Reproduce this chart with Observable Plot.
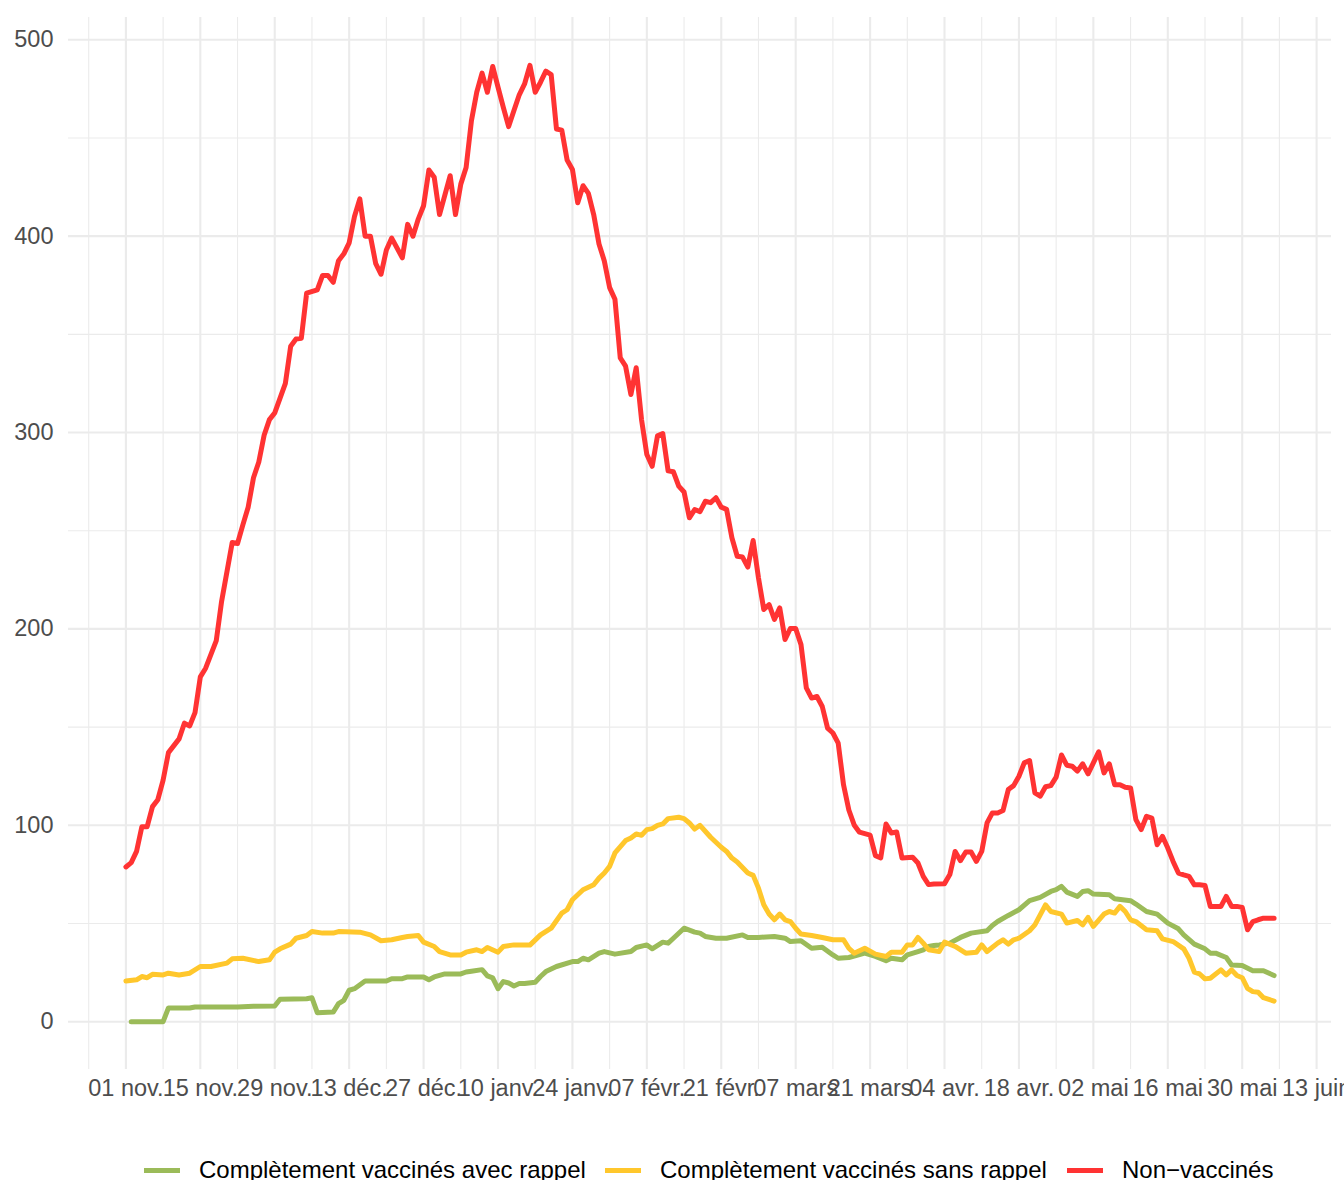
<!DOCTYPE html>
<html>
<head>
<meta charset="utf-8">
<script src="https://cdn.jsdelivr.net/npm/d3@7"></script>
<script src="https://cdn.jsdelivr.net/npm/@observablehq/plot@0.6"></script>
<style>
  html, body { margin: 0; padding: 0; background: #fff; overflow: hidden; }
  body { font-family: "Liberation Sans", Arial, sans-serif; width: 1344px; height: 1180px; }
  #legend { position: relative; width: 1344px; height: 60px; }
  .item { position: absolute; top: 50px; transform: translateY(-50%); display: flex; align-items: center; font-size: 24px; color: #000; white-space: nowrap; }
  .swatch { width: 36px; height: 5px; margin-right: 19px; }
</style>
</head>
<body>
<div id="chart"></div>
<div id="legend"></div>
<script>
// ---- data (days counted from startDate) ----
const startDate = "2021-11-01";
const seriesNames = ["Complètement vaccinés avec rappel", "Complètement vaccinés sans rappel", "Non−vaccinés"];
const seriesColors = ["#9BBB59", "#FFC72C", "#FF3333"];

const greenSeries = [[1,0],[7,0],[8,7],[12,7],[13,7.5],[21,7.5],[24,7.8],[28,8],[29,11.4],[34,11.7],[35,12.2],[36,4.6],[39,4.9],[40,9.2],[41,10.9],[42,16],[43,16.8],[45,20.7],[49,20.7],[50,21.9],[52,21.9],[53,22.8],[56,22.8],[57,21.4],[58,22.8],[60,24.3],[63,24.3],[64,25.3],[65,25.7],[67,26.5],[68,23.3],[69,22.3],[70,16.8],[71,20.4],[72,19.7],[73,18.2],[74,19.4],[75,19.4],[77,20.1],[78,23],[79,25.5],[81,28.1],[84,30.6],[85,30.6],[86,32.3],[87,31.5],[89,34.9],[90,35.7],[92,34.4],[95,35.7],[96,37.8],[98,39.1],[99,37.1],[101,40.5],[102,40],[103,42.5],[105,47.6],[107,45.6],[108,45.1],[109,43.4],[111,42.5],[113,42.5],[116,44.2],[117,42.9],[119,42.9],[122,43.4],[124,42.5],[125,40.8],[127,41.2],[129,37.4],[131,37.9],[133,34],[134,32.3],[136,32.7],[139,34.9],[141,33.2],[143,31],[144,32.3],[146,31.5],[147,34],[149,35.7],[150,36.6],[151,38.3],[152,38.8],[153,39.1],[155,40],[157,42.9],[159,45.1],[162,46.3],[163,49],[164,51],[166,54.1],[168,57],[170,61.6],[172,63.3],[174,66.3],[175,67.2],[176,68.9],[177,66],[179,63.8],[180,66.3],[181,66.7],[182,65],[185,64.6],[186,62.6],[189,61.6],[190,59.9],[192,56.1],[194,54.8],[196,50.2],[198,47.3],[199,44.2],[201,39.5],[203,37.1],[204,34.9],[205,34.9],[207,32.7],[208,28.9],[210,28.6],[212,25.9],[214,25.9],[216,23.5]];

const yellowSeries = [[0,20.7],[2,21.3],[3,23],[4,22.4],[5,24.1],[7,23.8],[8,24.7],[10,23.8],[12,24.7],[14,28.1],[16,28.1],[19,29.8],[20,32],[22,32.3],[25,30.6],[27,31.5],[28,35.4],[29,37.1],[31,39.5],[32,42.5],[34,43.9],[35,45.9],[37,45.1],[39,45.1],[40,45.9],[44,45.6],[46,44.2],[48,41.2],[50,41.7],[52,42.9],[53,43.4],[55,43.9],[56,40.5],[58,38.3],[59,35.7],[61,34],[63,34],[64,35.4],[66,36.6],[67,35.7],[68,37.8],[70,35.4],[71,38.3],[73,39.1],[76,39],[78,44.2],[80,47.6],[82,55.3],[83,57],[84,62.1],[86,67.2],[88,69.7],[89,73.1],[90,75.7],[91,79.1],[92,85.9],[94,92.2],[95,93.5],[96,95.6],[97,94.9],[98,97.8],[99,98.3],[100,100],[101,100.7],[102,103.4],[104,104.1],[105,103.4],[106,101.2],[107,98.1],[108,100],[110,93.9],[112,88.8],[113,86.7],[114,83.3],[115,81.3],[117,75.7],[118,74.5],[119,68],[120,59.5],[121,54.8],[122,51.9],[123,54.8],[124,51.9],[125,51],[126,47.6],[127,44.6],[129,43.9],[131,42.9],[133,41.7],[135,41.7],[136,37.4],[137,34.9],[139,37.4],[141,34.4],[143,33.2],[144,35.4],[146,35.4],[147,39.1],[148,39.1],[149,42.9],[150,40],[151,36.6],[153,35.7],[154,40.5],[156,38.3],[158,34.9],[160,35.4],[161,39.1],[162,35.7],[164,40],[165,41.7],[166,39.5],[167,41.7],[168,42.5],[170,46.3],[171,49.3],[173,59.5],[174,56.1],[176,54.8],[177,50.2],[179,51.5],[180,49.3],[181,53.1],[182,48.5],[184,54.8],[185,56.1],[186,55.3],[187,58.7],[188,56.1],[189,51.9],[190,51],[192,46.8],[194,46.3],[195,42.2],[197,40.8],[199,37.1],[200,32.3],[201,25.2],[202,24.3],[203,21.8],[204,22.1],[206,26.4],[207,23.8],[208,26.4],[209,23.5],[210,22.4],[211,17],[212,15.3],[213,15],[214,12.2],[216,10.5]];

const redSeries = [[0,78.8],[1,81],[2,86.7],[3,99.3],[4,99.3],[5,109.5],[6,113],[7,123],[8,137],[10,144],[11,152],[12,150.6],[13,157.4],[14,175.6],[15,180],[17,194],[18,214],[20,244],[21,243.5],[22,253],[23,262],[24,277],[25,285],[26,298.6],[27,306.6],[28,310],[30,325],[31,344],[32,347.6],[33,348],[34,371],[36,372.7],[37,380],[38,380],[39,376.5],[40,387.5],[41,391],[42,396.6],[43,410],[44,419],[45,400],[46,400],[47,386],[48,380.6],[49,393],[50,399],[52,389],[53,406],[54,400],[55,408.7],[56,415.5],[57,433.7],[58,430],[59,411],[61,430.8],[62,411],[63,426.5],[64,435],[65,458.8],[66,473.3],[67,483],[68,473.3],[69,486.4],[70,475.9],[71,465.6],[72,455.8],[73,464],[74,472],[75,477.5],[76,487],[77,473.3],[78,478.4],[79,484],[80,482.3],[81,454.6],[82,454],[83,438.8],[84,434],[85,417],[86,425.7],[87,421.8],[88,411],[89,396],[90,387.4],[91,373.8],[92,367.9],[93,338],[94,333.8],[95,319.4],[96,333],[97,306.6],[98,288.8],[99,282.8],[100,298.3],[101,299.5],[102,280.5],[103,280],[104,272.7],[105,269.7],[106,256.6],[107,260.8],[108,259.7],[109,265],[110,264.3],[111,266.8],[112,262],[113,260.9],[114,246.4],[115,237],[116,236.6],[117,231.5],[118,245],[119,226],[120,209.9],[121,212.4],[122,204.8],[123,210.7],[124,194.6],[125,200.2],[126,200.2],[127,192],[128,170],[129,164.8],[130,165.6],[131,160.5],[132,149.5],[133,147],[134,141.8],[135,120.6],[136,107.8],[137,100.2],[138,96.5],[140,95],[141,84.5],[142,83.4],[143,100.7],[144,96.1],[145,96.6],[146,83.4],[148,83.7],[149,80.8],[150,74],[151,69.8],[152,70.1],[154,70.3],[155,74.9],[156,86.7],[157,82],[158,86.4],[159,86.4],[160,81.6],[161,86.7],[162,101.2],[163,106.3],[164,106.3],[165,107.5],[166,118.2],[167,120.2],[168,125],[169,131.8],[170,133],[171,116.5],[172,114.8],[173,119.6],[174,120.2],[175,124.5],[176,135.8],[177,130.6],[178,130.1],[179,127.6],[180,131.3],[181,126.2],[182,131.8],[183,137.4],[184,126.7],[185,131.3],[186,120.7],[187,120.7],[188,119.4],[189,119],[190,102.9],[191,97.8],[192,104.6],[193,103.7],[194,90.1],[195,94.4],[196,88.4],[197,81.6],[198,75.7],[199,74.8],[200,74],[201,69.7],[202,69.7],[203,69.4],[204,58.7],[205,58.7],[206,58.7],[207,63.8],[208,58.7],[209,58.7],[210,58.2],[211,46.8],[212,51],[213,51.9],[214,52.7],[215,52.7],[216,52.7]];

const tickDays = [0,14,28,42,56,70,84,98,112,126,140,154,168,182,196,210,224];
const tickLabels = ["01 nov.","15 nov.","29 nov.","13 déc.","27 déc.","10 janv.","24 janv.","07 févr.","21 févr.","07 mars","21 mars","04 avr.","18 avr.","02 mai","16 mai","30 mai","13 juin"];
const yTicks = [0,100,200,300,400,500];
const yMinorTicks = [50,150,250,350,450];

// ---- build ----
const start = new Date(startDate + "T00:00:00Z");
const toDate = d => d3.utcDay.offset(start, d);
const allSeries = [greenSeries, yellowSeries, redSeries];
const data = [];
allSeries.forEach((s, i) => s.forEach(([d, v]) => data.push({series: seriesNames[i], date: toDate(d), value: v})));

const dayExt = d3.extent(data, r => +r.date);
const padX = 0.05 * (dayExt[1] - dayExt[0]);
const xDomain = [new Date(dayExt[0] - padX), new Date(dayExt[1] + padX)];
const valExt = d3.extent(data, r => r.value);
const padY = 0.05 * (valExt[1] - valExt[0]);
const yDomain = [valExt[0] - padY, valExt[1] + padY];

const majorDates = tickDays.map(toDate);
const labelByTime = new Map(majorDates.map((d, i) => [+d, tickLabels[i]]));
const minorDates = tickDays.map(d => toDate(d - 7)).concat([toDate(tickDays[tickDays.length - 1] + 7)])
  .filter(d => d >= xDomain[0] && d <= xDomain[1]);

const grid = "#EBEBEB";
const chart = Plot.plot({
  width: 1344,
  height: 1120,
  marginLeft: 68,
  marginRight: 13,
  marginTop: 17,
  marginBottom: 51,
  x: {type: "utc", domain: xDomain},
  y: {domain: yDomain},
  color: {domain: seriesNames, range: seriesColors},
  style: {fontFamily: "'Liberation Sans', Arial, sans-serif", fontSize: "23.5px", color: "#4D4D4D", background: "#fff", overflow: "hidden"},
  marks: [
    Plot.ruleY(yMinorTicks, {stroke: grid, strokeWidth: 1.1}),
    Plot.ruleX(minorDates, {stroke: grid, strokeWidth: 1.1}),
    Plot.ruleY(yTicks, {stroke: grid, strokeWidth: 2.1}),
    Plot.ruleX(majorDates, {stroke: grid, strokeWidth: 2.1}),
    Plot.axisY(yTicks, {tickSize: 0, tickPadding: 15, label: null}),
    Plot.axisX(majorDates, {tickSize: 0, tickPadding: 10, label: null, tickFormat: d => labelByTime.get(+d)}),
    Plot.line(data, {x: "date", y: "value", z: "series", stroke: "series", strokeWidth: 5, strokeLinejoin: "round"})
  ]
});
document.getElementById("chart").appendChild(chart);

// ---- legend ----
const legendLeft = [144, 605, 1067];
const legend = document.getElementById("legend");
seriesNames.forEach((name, i) => {
  const item = document.createElement("div");
  item.className = "item";
  item.style.left = legendLeft[i] + "px";
  const sw = document.createElement("span");
  sw.className = "swatch";
  sw.style.background = seriesColors[i];
  const tx = document.createElement("span");
  tx.textContent = name;
  item.appendChild(sw);
  item.appendChild(tx);
  legend.appendChild(item);
});
</script>
</body>
</html>
